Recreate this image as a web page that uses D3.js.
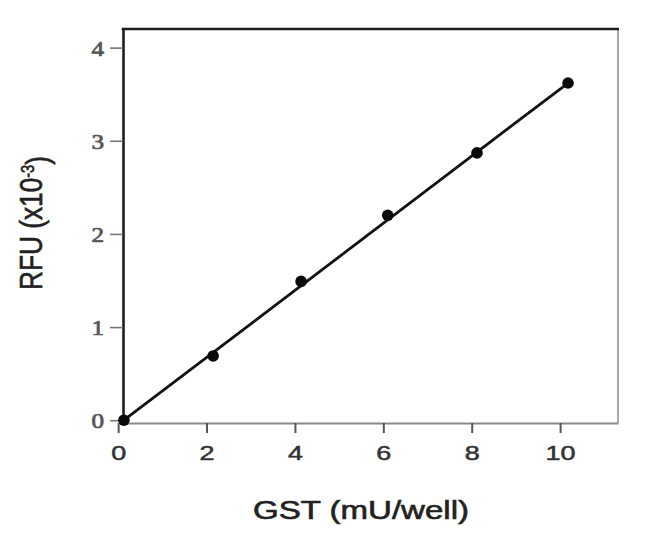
<!DOCTYPE html>
<html>
<head>
<meta charset="utf-8">
<script src="https://cdn.jsdelivr.net/npm/d3@7"></script>
<style>
  html, body { margin: 0; padding: 0; background: #fff; }
  svg { display: block; }
</style>
</head>
<body>
<svg id="chart" width="650" height="541"></svg>
<script>
// ---- data ----
const gstX = [0.13, 2.15, 4.14, 6.1, 8.12, 10.18];       // GST (mU/well)
const rfuY = [0.0, 0.69, 1.49, 2.20, 2.87, 3.62];        // RFU (x10^-3)
const fitX = [0.13, 10.18];
const fitY = [0.0, 3.62];
const xTicks = [0, 2, 4, 6, 8, 10];
const yTicks = [0, 1, 2, 3, 4];
const xDomain = [0.11, 11.31];
const yDomain = [-0.03, 4.2];
const xTitle = "GST (mU/well)";

// ---- layout ----
const plotL = 123, plotR = 618, plotT = 29, plotB = 423;
const svg = d3.select("#chart");
const x = d3.scaleLinear().domain(xDomain).range([plotL, plotR]);
const y = d3.scaleLinear().domain(yDomain).range([plotB, plotT]);

// right frame (light gray)
svg.append("line").attr("x1", plotR).attr("x2", plotR).attr("y1", plotT).attr("y2", plotB)
  .attr("stroke", "#a8a8a8").attr("stroke-width", 2);

// x axis
const xg = svg.append("g").attr("transform", `translate(0,${plotB})`)
  .call(d3.axisBottom(x).tickValues(xTicks).tickSize(10).tickSizeOuter(0).tickFormat(d3.format("d")));
xg.select(".domain").attr("stroke", "#8a8a8a").attr("stroke-width", 2.2);
xg.selectAll(".tick line").attr("stroke", "#555").attr("stroke-width", 2);
xg.selectAll(".tick text")
  .attr("y", 23).attr("dy", "0.71em")
  .attr("fill", "#333").attr("stroke", "#333").attr("stroke-width", 0.5)
  .style("font-family", "'Liberation Sans', Arial, sans-serif")
  .style("font-size", "20px")
  .attr("transform", "scale(1.35,1)");

// y axis
const yg = svg.append("g").attr("transform", `translate(${plotL},0)`)
  .call(d3.axisLeft(y).tickValues(yTicks).tickSize(13).tickSizeOuter(0).tickFormat(d3.format("d")));
yg.select(".domain").attr("stroke", "#1e1e1e").attr("stroke-width", 2.6);
yg.selectAll(".tick line").attr("stroke", "#777").attr("stroke-width", 1.6);
yg.selectAll(".tick text")
  .attr("x", -19 / 1.2).attr("dy", "0.36em")
  .attr("fill", "#555").attr("stroke", "#555").attr("stroke-width", 0.7)
  .style("font-family", "'Liberation Serif', 'Times New Roman', serif")
  .style("font-size", "21px")
  .attr("transform", "scale(1.2,1)");

// top frame (dark)
svg.append("line").attr("x1", plotL - 1.3).attr("x2", plotR + 1).attr("y1", plotT).attr("y2", plotT)
  .attr("stroke", "#1e1e1e").attr("stroke-width", 2.6);

// fit line
const pts = gstX.map((v, i) => [v, rfuY[i]]);
const fit = fitX.map((v, i) => [v, fitY[i]]);
svg.append("path")
  .attr("d", d3.line().x(d => x(d[0])).y(d => y(d[1]))(fit))
  .attr("fill", "none").attr("stroke", "#111").attr("stroke-width", 2.8);

// points
svg.selectAll("circle.pt").data(pts).enter().append("circle")
  .attr("class", "pt")
  .attr("cx", d => x(d[0])).attr("cy", d => y(d[1]))
  .attr("r", 5.8).attr("fill", "#0a0a0a");

// x title
svg.append("text")
  .attr("x", 361).attr("y", 519)
  .attr("text-anchor", "middle")
  .attr("fill", "#222").attr("stroke", "#222").attr("stroke-width", 0.6)
  .style("font-family", "'Liberation Sans', Arial, sans-serif")
  .style("font-size", "25px")
  .attr("textLength", 216).attr("lengthAdjust", "spacingAndGlyphs")
  .text(xTitle);

// y title with superscript
const yt = svg.append("text")
  .attr("transform", "translate(42,223) rotate(-90) scale(1.05,1.25)")
  .attr("text-anchor", "middle")
  .attr("fill", "#222").attr("stroke", "#222").attr("stroke-width", 0.5)
  .style("font-family", "'Liberation Sans', Arial, sans-serif")
  .style("font-size", "25px");
yt.append("tspan").text("RFU (x10");
yt.append("tspan").attr("dy", "-0.45em").style("font-size", "14px").text("-3");
yt.append("tspan").attr("dy", "0.45em").text(")");
</script>
</body>
</html>
